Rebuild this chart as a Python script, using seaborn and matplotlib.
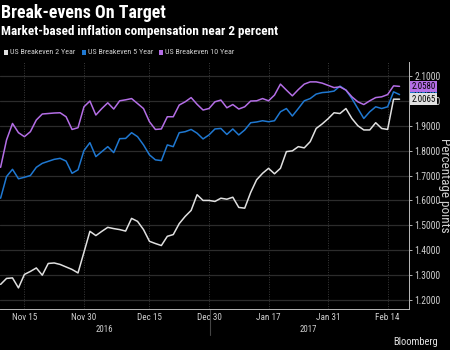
import numpy as np
import pandas as pd
import matplotlib
matplotlib.use("Agg")
import matplotlib.pyplot as plt
import seaborn as sns
from matplotlib import font_manager

# ---------------- data ----------------
holidays = ["2016-11-24", "2016-12-26", "2017-01-02", "2017-01-16"]
dates = pd.bdate_range("2016-11-09", "2017-02-16", freq="C", holidays=holidays)

be2 = [1.263, 1.287, 1.289, 1.249, 1.303, 1.315, 1.329, 1.300, 1.347, 1.349,
       1.343, 1.333, 1.323, 1.309, 1.392, 1.476, 1.459, 1.476, 1.492, 1.487,
       1.483, 1.477, 1.528, 1.516, 1.483, 1.436, 1.427, 1.419, 1.456, 1.463,
       1.507, 1.536, 1.560, 1.623, 1.600, 1.600, 1.596, 1.609, 1.605, 1.613,
       1.572, 1.569, 1.632, 1.683, 1.709, 1.729, 1.707, 1.729, 1.796, 1.799,
       1.816, 1.811, 1.836, 1.889, 1.907, 1.928, 1.952, 1.949, 1.969, 1.929,
       1.900, 1.883, 1.883, 1.912, 1.889, 1.885, 2.0065, 2.0065]
be5 = [1.609, 1.696, 1.725, 1.687, 1.693, 1.700, 1.733, 1.749, 1.757, 1.765,
       1.769, 1.758, 1.709, 1.723, 1.800, 1.832, 1.776, 1.796, 1.816, 1.792,
       1.848, 1.849, 1.872, 1.856, 1.823, 1.783, 1.763, 1.760, 1.823, 1.816,
       1.872, 1.876, 1.885, 1.870, 1.847, 1.863, 1.887, 1.889, 1.865, 1.887,
       1.863, 1.883, 1.912, 1.915, 1.920, 1.916, 1.920, 1.956, 1.969, 1.939,
       1.969, 2.000, 2.009, 2.027, 2.033, 2.035, 2.039, 2.059, 2.043, 2.009,
       1.969, 1.929, 1.956, 1.976, 1.969, 1.976, 2.036, 2.025]
be10 = [1.733, 1.843, 1.909, 1.872, 1.856, 1.876, 1.923, 1.947, 1.949, 1.951,
        1.952, 1.936, 1.885, 1.892, 1.976, 1.999, 1.943, 1.969, 1.992, 1.967,
        2.000, 2.004, 2.009, 1.989, 1.969, 1.916, 1.885, 1.887, 1.936, 1.936,
        1.983, 1.996, 2.013, 1.986, 1.963, 1.969, 1.996, 2.003, 1.972, 1.985,
        1.967, 1.976, 1.999, 2.000, 2.009, 2.000, 2.023, 2.067, 2.043, 2.020,
        2.045, 2.067, 2.076, 2.076, 2.071, 2.062, 2.053, 2.056, 2.043, 2.016,
        1.996, 1.985, 2.000, 2.013, 2.016, 2.025, 2.060, 2.058]

series_names = ["US Breakeven 2 Year", "US Breakeven 5 Year", "US Breakeven 10 Year"]
series_vals = [be2, be5, be10]
series_colors = ["#e0e0e0", "#1f78d1", "#b46ee6"]
last_labels = ["2.0065", "2.0250", "2.0580"]

tick_dates = ["2016-11-15", "2016-11-30", "2016-12-15", "2016-12-30",
              "2017-01-17", "2017-01-31", "2017-02-14"]
tick_labels = ["Nov 15", "Nov 30", "Dec 15", "Dec 30", "Jan 17", "Jan 31", "Feb 14"]
yticks = [1.2, 1.3, 1.4, 1.5, 1.6, 1.7, 1.8, 1.9, 2.0, 2.1]

# ---------------- style ----------------
sns.set_theme(style="dark")
entries = font_manager.fontManager.ttflist
names = {f.name for f in entries}
stretch = "normal"
fam = None
for cand in ["Roboto Condensed", "Liberation Sans Narrow"]:
    if cand in names:
        fam = cand
        break
if fam is None:
    cond = [f for f in entries if f.name == "DejaVu Sans" and "ondensed" in str(f.stretch)]
    if cond:
        fam, stretch = "DejaVu Sans", "condensed"
    elif "Roboto" in names:
        fam = "Roboto"
    else:
        fam = "DejaVu Sans"
plt.rcParams["font.family"] = [fam, "DejaVu Sans"]
plt.rcParams["font.stretch"] = stretch

idx = np.arange(len(dates))
df = pd.concat([pd.DataFrame({"idx": idx, "value": v, "series": n})
                for n, v in zip(series_names, series_vals)], ignore_index=True)

fig = plt.figure(figsize=(4.5, 3.5), dpi=100, facecolor="black")
ax = fig.add_axes([0.0, 0.117, 0.909, 0.706], facecolor="black")
renderer = fig.canvas.get_renderer()


def width_px(txt, size, weight="normal"):
    t = fig.text(0, 0, txt, fontsize=size, fontweight=weight)
    w = t.get_window_extent(renderer).width
    t.remove()
    return w


def fit(txt, target, cap, weight="normal"):
    return min(cap, 10 * target / width_px(txt, 10, weight))


sns.lineplot(data=df, x="idx", y="value", hue="series", hue_order=series_names,
             palette=series_colors, linewidth=1.1, legend=False, ax=ax)

ax.set_xlim(-0.1, 68.6)
ax.set_ylim(1.164, 2.156)

tick_pos = [int(np.where(dates == pd.Timestamp(d))[0][0]) for d in tick_dates]
ax.set_xticks(tick_pos)
ax.set_xticklabels(tick_labels)
ax.set_yticks(yticks)
ax.set_yticklabels([f"{t:.4f}" for t in yticks])

ysz = fit("2.1000", 26, 7.5)
xsz = fit("Nov 15", 25, 7.5)
ax.yaxis.tick_right()
ax.yaxis.set_label_position("right")
ax.tick_params(axis="y", colors="#d0d0d0", labelsize=ysz, length=2.5, width=0.6,
               pad=1.5, direction="out")
ax.tick_params(axis="x", colors="#d0d0d0", labelsize=xsz, length=0, pad=3)
ax.set_xlabel("")
ax.set_ylabel("Percentage points", color="#d0d0d0",
              fontsize=fit("Percentage points", 108, 9.5), rotation=270, va="center")
ax.yaxis.set_label_coords(1.0 + 35 / 409, 0.5 + (62 + 123.5 - 185) / 247)

ax.grid(True, axis="y", color="#2c2c2c", linewidth=0.9, linestyle="-")
ax.grid(True, axis="x", color="#3a3a3a", linewidth=0.7, linestyle=(0, (1, 1.5)))
for s in ["top", "left"]:
    ax.spines[s].set_visible(False)
for s in ["right", "bottom"]:
    ax.spines[s].set_visible(True)
    ax.spines[s].set_color("#bbbbbb")
    ax.spines[s].set_linewidth(0.7)

# end-value tags
tsz = fit("2.0065", 24, 7.5)
order = [1, 2, 0]
for i in order:
    ax.annotate(last_labels[i], xy=(1.0, series_vals[i][-1]),
                xycoords=("axes fraction", "data"), xytext=(1.5, 0),
                textcoords="offset points", va="center", ha="left",
                fontsize=tsz, color="black", annotation_clip=False,
                bbox=dict(boxstyle="square,pad=0.15", fc=series_colors[i],
                          ec="none"))

# year labels and separator
trans = matplotlib.transforms.blended_transform_factory(ax.transData, fig.transFigure)
for lbl, xpos in [("2016", 17.4), ("2017", 51.7)]:
    ax.text(xpos, 1 - 329 / 350, lbl, transform=trans, ha="center", va="center",
            color="#d0d0d0", fontsize=fit("2016", 17, 7.5))
ax.plot([35.1, 35.1], [1 - 309 / 350, 1 - 335 / 350], transform=trans,
        color="#444444", linewidth=0.8, clip_on=False)

# titles
fig.text(0.002, 1 - 13 / 350, "Break-evens On Target", color="white",
         fontsize=fit("Break-evens On Target", 165, 13.5, "bold"), fontweight="bold",
         ha="left", va="center")
sub = "Market-based inflation compensation near 2 percent"
fig.text(0.002, 1 - 31 / 350, sub, color="white",
         fontsize=fit(sub, 275, 9.5, "bold"), fontweight="bold", ha="left", va="center")

# legend
leg_x = [4, 82, 159]
leg_w = [65, 65, 68]
lsz = min(fit(n, w, 6.5) for n, w in zip(series_names, leg_w))
for x0, name, col in zip(leg_x, series_names, series_colors):
    fig.patches.append(matplotlib.patches.Rectangle(
        (x0 / 450, 1 - 55 / 350), 3.5 / 450, 4.5 / 350, transform=fig.transFigure,
        fc=col, ec="none"))
    fig.text((x0 + 6) / 450, 1 - 52.5 / 350, name, color="#d0d0d0", fontsize=lsz,
             ha="left", va="center")

fig.text(1 - 12 / 450, 1 - 342 / 350, "Bloomberg", color="#e0e0e0",
         fontsize=fit("Bloomberg", 45, 8), ha="right", va="center")

fig.savefig("out.png", dpi=100, facecolor="black")
